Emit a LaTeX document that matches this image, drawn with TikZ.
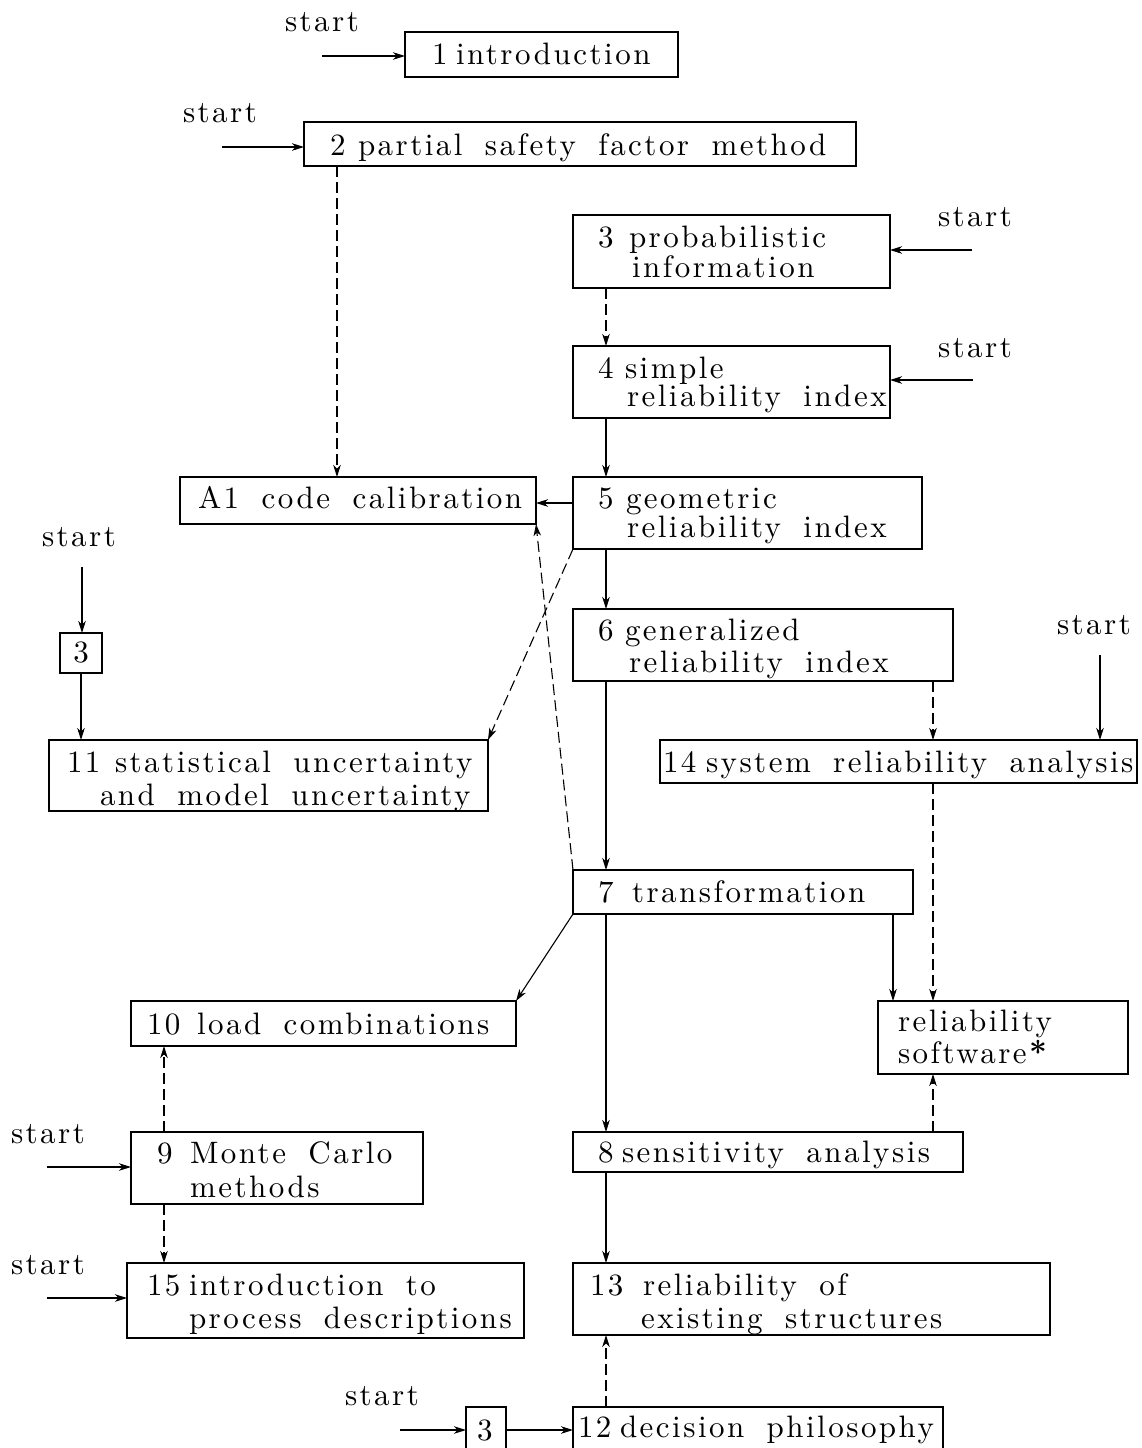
\documentclass[tikz,border=0pt]{standalone}
\usepackage{fontspec}
\setmainfont{lmroman10-regular.otf}[BoldFont=lmroman10-bold.otf,LetterSpace=8,WordSpace=1.75]
\usetikzlibrary{arrows.meta,calc}
\tikzset{
  box/.style={draw,line width=2.4pt,anchor=north west,inner sep=0pt,outer sep=0pt},
  lbl/.style={anchor=base west,inner sep=0pt,outer sep=0pt},
  arr/.style={line width=1.1pt,-{Stealth[length=12pt,width=7.5pt,inset=3.5pt]}},
  dsh/.style={arr,dash pattern=on 11pt off 5pt},
}
\newcommand\bx[5]{\node[box,minimum width={#4-#2},minimum height={#5-#3}] (#1) at (#2,#3) {};}
\newcommand\tx[4]{\node[lbl] (#1) at (#2,#3) {#4};}
\begin{document}
\begin{tikzpicture}[x=1pt,y=-1pt,font=\fontsize{31}{36}\selectfont]
\useasboundingbox (0,0) rectangle (1142,1448);
\fill[white] (0,0) rectangle (1142,1448);
\clip (0,0) rectangle (1142,1448);
% boxes
\bx{b1}{405}{32}{678}{77}
\bx{b2}{304}{122}{856}{166}
\bx{b3}{573}{215}{890}{288}
\bx{b4}{573}{346}{890}{418}
\bx{a1}{180}{477}{536}{524}
\bx{b5}{573}{477}{922}{549}
\bx{s3}{60}{633}{102}{673}
\bx{b6}{573}{609}{953}{681}
\bx{b14}{660}{740}{1137}{783}
\bx{b11}{49}{740}{488}{811}
\bx{b7}{573}{870}{913}{914}
\bx{b10}{131}{1001}{516}{1046}
\bx{bsw}{878}{1001}{1128}{1074}
\bx{b9}{131}{1132}{423}{1204}
\bx{b8}{573}{1132}{963}{1172}
\bx{b15}{127}{1263}{524}{1338}
\bx{b13}{573}{1263}{1050}{1335}
\bx{t3}{466}{1407}{506}{1470}
\bx{b12}{573}{1407}{943}{1470}
% texts
\tx{n1}{432}{64}{1}\tx{l1}{456}{64}{introduction}
\tx{n2}{330}{155}{2}\tx{l2}{358}{155}{partial safety factor method}
\tx{n3}{598}{247}{3}\tx{l3a}{629}{247}{probabilistic}\tx{l3b}{632}{277}{information}
\tx{n4}{598}{378}{4}\tx{l4a}{625}{378}{simple}\tx{l4b}{627}{406}{reliability index}
\tx{la1}{198}{508}{A1 code calibration}
\tx{n5}{598}{508}{5}\tx{l5a}{626}{508}{geometric}\tx{l5b}{627}{537}{reliability index}
\node[inner sep=0pt] (ns3) at (s3.center) {3};
\tx{n6}{598}{640}{6}\tx{l6a}{625}{640}{generalized}\tx{l6b}{629}{672}{reliability index}
\tx{n14}{663}{772}{14}\tx{l14}{706}{772}{system reliability analysis}
\tx{n11}{67}{772}{11}\tx{l11a}{115}{772}{statistical uncertainty}\tx{l11b}{100}{805}{and model uncertainty}
\tx{n7}{598}{902}{7}\tx{l7}{632}{902}{transformation}
\tx{n10}{147}{1034}{10}\tx{l10}{197}{1034}{load combinations}
\tx{lswa}{898}{1031}{reliability}\tx{lswb}{898}{1063}{software\textbf{*}}
\tx{n9}{157}{1163}{9}\tx{l9a}{190}{1163}{Monte Carlo}\tx{l9b}{190}{1197}{methods}
\tx{n8}{598}{1162}{8}\tx{l8}{622}{1162}{sensitivity analysis}
\tx{n15}{147}{1295}{15}\tx{l15a}{189}{1295}{introduction to}\tx{l15b}{189}{1328}{process descriptions}
\tx{n13}{590}{1295}{13}\tx{l13a}{643}{1295}{reliability of}\tx{l13b}{641}{1328}{existing structures}
\tx{n12}{578}{1437}{12}\tx{l12}{620}{1437}{decision philosophy}
\tx{nt3}{477}{1440}{3}
% start labels
\tx{st1}{285}{31}{start}
\tx{st2}{183}{122}{start}
\tx{st3}{938}{226}{start}
\tx{st4}{938}{357}{start}
\tx{st5}{42}{546}{start}
\tx{st6}{1057}{634}{start}
\tx{st7}{11}{1143}{start}
\tx{st8}{11}{1274}{start}
\tx{st9}{345}{1405}{start}
% start arrow tails
\coordinate (c1) at (322,56);
\coordinate (c2) at (222,147);
\coordinate (c3) at (972,250);
\coordinate (c4) at (973,380);
\coordinate (c5) at (82,567);
\coordinate (c6) at (1100,655);
\coordinate (c7) at (47,1167);
\coordinate (c8) at (47,1298);
\coordinate (c9) at (400,1430);
\draw[arr] (c1) -- (c1 -| b1.west);
\draw[arr] (c2) -- (c2 -| b2.west);
\draw[arr] (c3) -- (c3 -| b3.east);
\draw[arr] (c4) -- (c4 -| b4.east);
\draw[arr] (c5) -- (c5 |- s3.north);
\draw[arr] (c6) -- (c6 |- b14.north);
\draw[arr] (c7) -- (c7 -| b9.west);
\draw[arr] (c8) -- (c8 -| b15.west);
\draw[arr] (c9) -- (c9 -| t3.west);
% connectors
\draw[dsh] (337,0 |- b2.south) -- (337,0 |- a1.north);
\draw[dsh] (606,0 |- b3.south) -- (606,0 |- b4.north);
\draw[arr] (606,0 |- b4.south) -- (606,0 |- b5.north);
\draw[arr] (0,503 -| b5.west) -- (0,503 -| a1.east);
\draw[dsh] (b5.south west) -- (b11.north east);
\draw[arr] (606,0 |- b5.south) -- (606,0 |- b6.north);
\draw[dsh] (b7.north west) -- (a1.south east);
\draw[arr] (s3.south) -- (s3.south |- b11.north);
\draw[arr] (606,0 |- b6.south) -- (606,0 |- b7.north);
\draw[dsh] (933,0 |- b6.south) -- (933,0 |- b14.north);
\draw[dsh] (933,0 |- b14.south) -- (933,0 |- bsw.north);
\draw[arr] (893,0 |- b7.south) -- (893,0 |- bsw.north);
\draw[arr] (b7.south west) -- (b10.north east);
\draw[arr] (606,0 |- b7.south) -- (606,0 |- b8.north);
\draw[dsh] (933,0 |- b8.north) -- (933,0 |- bsw.south);
\draw[dsh] (164,0 |- b9.north) -- (164,0 |- b10.south);
\draw[dsh] (164,0 |- b9.south) -- (164,0 |- b15.north);
\draw[arr] (606,0 |- b8.south) -- (606,0 |- b13.north);
\draw[dsh] (606,0 |- b12.north) -- (606,0 |- b13.south);
\draw[arr] (0,1430 -| t3.east) -- (0,1430 -| b12.west);
\end{tikzpicture}
\end{document}
